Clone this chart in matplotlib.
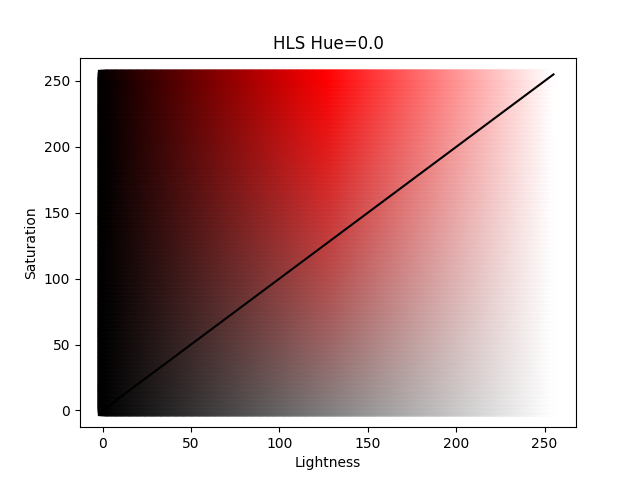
import colorsys
import matplotlib
matplotlib.use('Agg')
import matplotlib.pyplot as plt
import numpy as np

hue = 0.0
lightness_levels = np.arange(256)
saturation_levels = np.arange(256)
diag_x = [0, 255]
diag_y = [0, 255]


def hls_colors(h, ls, ss):
    """Couleur RGB de chaque point (l, s) pour une teinte donnée."""
    cols = []
    for l, s in zip(ls, ss):
        cols.append(colorsys.hls_to_rgb(h, l / 255, s / 255))
    return cols


L, S = np.meshgrid(lightness_levels, saturation_levels)
L = L.ravel()
S = S.ravel()

fig = plt.figure(figsize=(6.4, 4.8), dpi=100)
plt.scatter(L, S, c=hls_colors(hue, L, S), marker='s')
plt.plot(diag_x, diag_y, color='black')

plt.xlabel('Lightness')
plt.ylabel('Saturation')
plt.title(f'HLS Hue={hue}')

plt.savefig('out.png')
